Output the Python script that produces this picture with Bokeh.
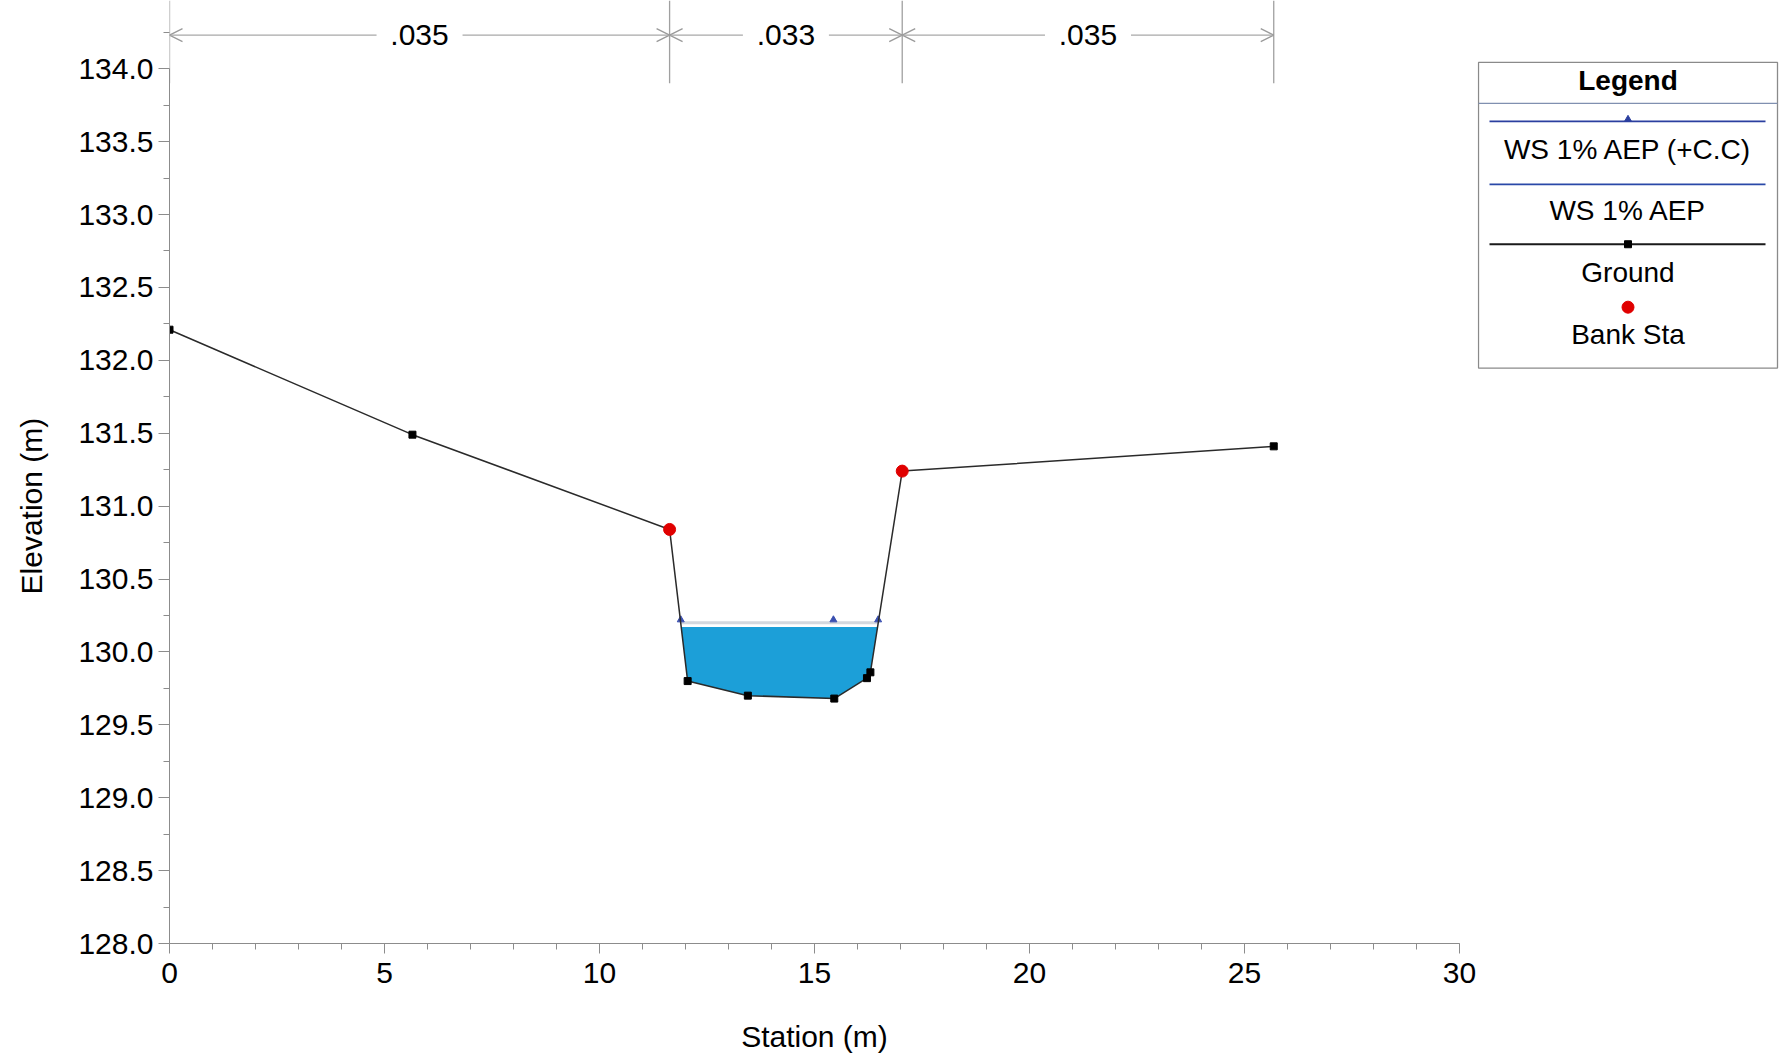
import numpy as np
from bokeh.plotting import figure
from bokeh.layouts import row
from bokeh.models import (Range1d, FixedTicker, PrintfTickFormatter,
                          Arrow, OpenHead, ColumnDataSource)
from bokeh.core.properties import value
from bokeh.embed import file_html
from bokeh.resources import INLINE

# ---------------- data ----------------
ground_sta = [0.0, 5.65, 11.63, 12.05, 13.45, 15.46, 16.22, 16.30, 17.04, 25.68]
ground_elev = [132.21, 131.49, 130.84, 129.80, 129.70, 129.68, 129.82, 129.86, 131.24, 131.41]
bank_sta = [11.63, 17.04]
bank_elev = [130.84, 131.24]
ws_cc_sta = [11.89, 15.44, 16.48]
ws_cc_elev = [130.20, 130.20, 130.20]
ws_elev = 130.17
n_values = [".035", ".033", ".035"]
n_breaks = [0.0, 11.63, 17.04, 25.68]
x_ticks = [0, 5, 10, 15, 20, 25, 30]
y_ticks = [128.0, 128.5, 129.0, 129.5, 130.0, 130.5, 131.0, 131.5,
           132.0, 132.5, 133.0, 133.5, 134.0]
legend_labels = ["WS 1% AEP (+C.C)", "WS 1% AEP", "Ground", "Bank Sta"]

# ---------------- layout ----------------
H, FB = 1055, 111
LW = 60                      # left strip holding the y-axis title
MW = 1417                    # main figure width
GW = 302                     # legend figure width
PXY = 145.95
frame_h = H - FB
y_end = 128.0 + frame_h / PXY
FONT = "Liberation Sans"
AX = "#8c8c8c"

p = figure(width=MW, height=H, x_range=Range1d(0, 30), y_range=Range1d(128.0, y_end),
           output_backend="svg", toolbar_location=None,
           min_border_left=169 - LW, min_border_right=18, min_border_top=0, min_border_bottom=FB)
p.grid.visible = False
p.outline_line_color = None

# x axis
xa = p.xaxis[0]
xa.ticker = FixedTicker(ticks=x_ticks, minor_ticks=list(range(0, 31)))
xa.axis_line_color = AX
xa.major_tick_line_color = AX
xa.minor_tick_line_color = AX
xa.major_tick_out = 10
xa.major_tick_in = 0
xa.minor_tick_out = 6
xa.minor_tick_in = 0
xa.major_label_text_font = FONT
xa.major_label_text_font_size = "30px"
xa.major_label_text_color = "black"
xa.major_label_standoff = 9
xa.axis_label = "Station (m)"
xa.axis_label_text_font = FONT
xa.axis_label_text_font_style = "normal"
xa.axis_label_text_font_size = "30px"
xa.axis_label_text_color = "black"
xa.axis_label_standoff = 34

# y axis
ya = p.yaxis[0]
ya.ticker = FixedTicker(ticks=y_ticks, minor_ticks=[t + 0.25 for t in y_ticks])
ya.formatter = PrintfTickFormatter(format="%.1f")
ya.bounds = (128.0, 134.0)
ya.axis_line_color = AX
ya.major_tick_line_color = AX
ya.minor_tick_line_color = AX
ya.major_tick_out = 11
ya.major_tick_in = 0
ya.minor_tick_out = 6
ya.minor_tick_in = 0
ya.major_label_text_font = FONT
ya.major_label_text_font_size = "30px"
ya.major_label_text_color = "black"
ya.major_label_standoff = 5

# ---------------- water fill ----------------
g_x = np.array(ground_sta)
g_y = np.array(ground_elev)
idx = np.where(g_y < ws_elev)[0]
i0, i1 = idx[0], idx[-1]


def cross(a, b):
    t = (ws_elev - g_y[a]) / (g_y[b] - g_y[a])
    return g_x[a] + t * (g_x[b] - g_x[a])


poly_x = [cross(i0 - 1, i0)] + list(g_x[i0:i1 + 1]) + [cross(i1, i1 + 1)]
poly_y = [ws_elev] + list(g_y[i0:i1 + 1]) + [ws_elev]
p.patch(poly_x, poly_y, fill_color="#1c9fd8", line_color=None)

# WS (+C.C) line
p.line(ws_cc_sta, ws_cc_elev, line_color="#d4d8de", line_width=3)
p.scatter(ws_cc_sta, [e + 0.02 for e in ws_cc_elev], marker="triangle", size=7,
          fill_color="#3a4fb0", line_color="#3a4fb0")

# ground
p.line(ground_sta, ground_elev, line_color="#2a2a2a", line_width=1.5)
p.scatter(ground_sta, ground_elev, marker="square", size=7, fill_color="black", line_color="black")
p.scatter(bank_sta, bank_elev, marker="circle", size=12, fill_color="#e00000", line_color="#e00000")

# ---------------- Manning's n annotations ----------------
N_Y = 134.23
GAP = 1.0
mids = [(n_breaks[i] + n_breaks[i + 1]) / 2 for i in range(len(n_values))]
p.segment(x0=n_breaks, y0=[133.9] * len(n_breaks), x1=n_breaks, y1=[y_end] * len(n_breaks),
          line_color="#a0a0a0", line_width=1.3)
xs, xe = [], []
for i, m in enumerate(mids):
    xs += [m - GAP, m + GAP]
    xe += [n_breaks[i], n_breaks[i + 1]]
asrc = ColumnDataSource(dict(xs=xs, xe=xe, ys=[N_Y] * len(xs), ye=[N_Y] * len(xs)))
p.add_layout(Arrow(end=OpenHead(size=13, line_color="#9a9a9a", line_width=1.3), source=asrc,
                   x_start="xs", y_start="ys", x_end="xe", y_end="ye",
                   line_color="#a8a8a8", line_width=1.3))
p.text(x=mids, y=[N_Y] * len(mids), text=n_values, text_align="center", text_baseline="middle",
       text_font=value(FONT), text_font_size="30px", text_color="black")

# ---------------- left strip: y-axis title ----------------
lf = figure(width=LW, height=H, x_range=Range1d(0, LW), y_range=p.y_range,
            output_backend="svg", toolbar_location=None, x_axis_location=None, y_axis_location=None,
            min_border_left=0, min_border_right=0, min_border_top=0, min_border_bottom=FB)
lf.grid.visible = False
lf.outline_line_color = None
lf.text(x=[31], y=[131.0], text=["Elevation (m)"], angle=np.pi / 2, text_align="center",
        text_baseline="middle", text_font=value(FONT), text_font_size="30px", text_color="black")

# ---------------- legend (local pixel coordinates, frame aligned with main) ----------------
lg = figure(width=GW, height=H, x_range=Range1d(0, GW), y_range=Range1d(frame_h, 0),
            output_backend="svg", toolbar_location=None, x_axis_location=None, y_axis_location=None,
            min_border_left=0, min_border_right=0, min_border_top=0, min_border_bottom=FB)
lg.grid.visible = False
lg.outline_line_color = None
BL, BR, BT, BB = 1, 300, 62, 368
BC = (BL + BR) / 2
lg.quad(left=[BL], right=[BR], top=[BT], bottom=[BB], fill_color="white",
        line_color="#8a8a8a", line_width=1.3)
lg.segment(x0=[BL], y0=[103], x1=[BR], y1=[103], line_color="#8090b0", line_width=1.2)
lg.text(x=[BC], y=[80], text=["Legend"], text_align="center", text_baseline="middle",
        text_font=value(FONT), text_font_size="28px", text_font_style="bold", text_color="black")
line_y = [121, 184, 244]
line_c = ["#2b3f9f", "#2a49a8", "#1a1a1a"]
lg.segment(x0=[12] * 3, y0=line_y, x1=[288] * 3, y1=line_y, line_color=line_c, line_width=1.8)
lg.scatter([BC], [119], marker="triangle", size=7, fill_color="#2b3f9f", line_color="#2b3f9f")
lg.scatter([BC], [244], marker="square", size=7, fill_color="black", line_color="black")
lg.scatter([BC], [307], marker="circle", size=12, fill_color="#e00000", line_color="#e00000")
lab_y = [149, 210, 272, 334]
lg.text(x=[BC] * 4, y=lab_y, text=legend_labels, text_align="center",
        text_baseline="middle", text_font=value(FONT), text_font_size="28px", text_color="black")

layout = row(lf, p, lg)
open("out.html", "w").write(file_html(layout, INLINE))
